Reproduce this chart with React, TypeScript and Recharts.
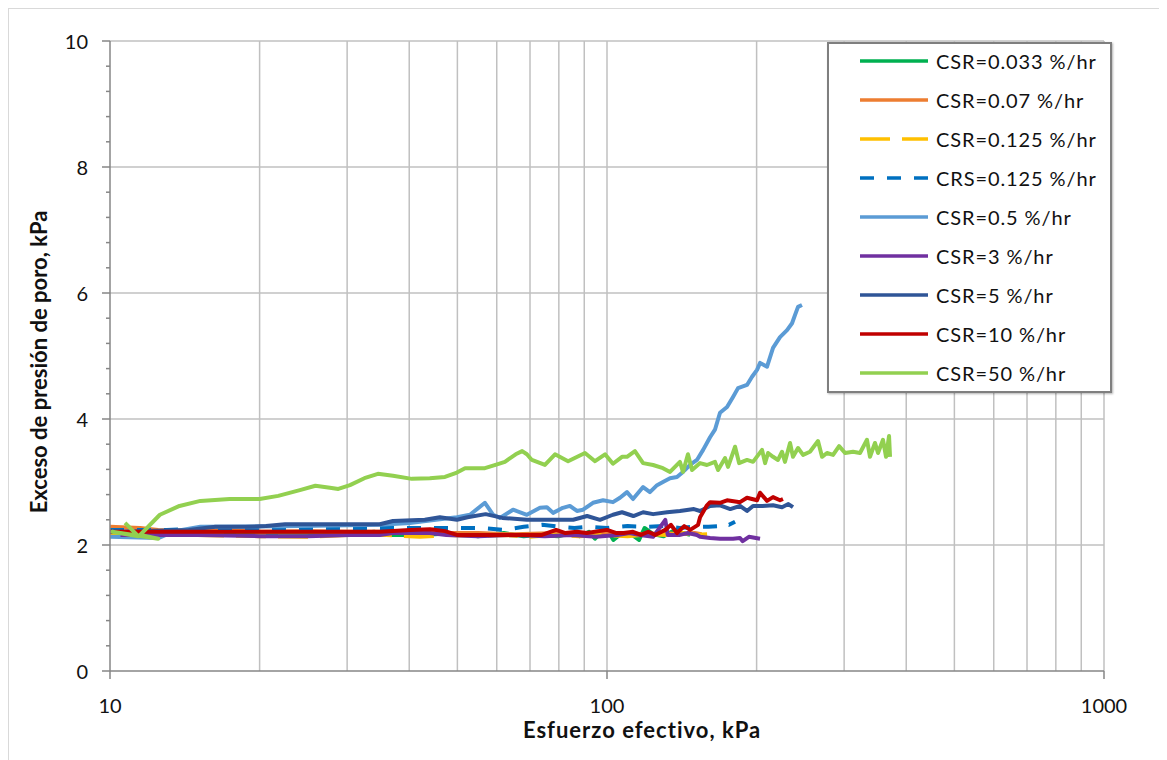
import React from 'react'
import { LineChart, Line, XAxis, YAxis, CartesianGrid, Legend } from 'recharts'

// x = esfuerzo efectivo (kPa), y = exceso de presión de poro (kPa)
const CSR_0033 = [
  [10.5, 2.19], [15, 2.19], [20, 2.19], [26, 2.17], [30, 2.17], [34, 2.21], [36.5, 2.16], [40, 2.16],
  [45, 2.17], [50, 2.19], [55, 2.14], [62, 2.19], [68, 2.14], [72, 2.16], [80, 2.14], [85, 2.19],
  [88, 2.14], [92, 2.21], [94.6, 2.1], [97, 2.19], [101, 2.19], [103, 2.08], [106, 2.16], [112, 2.17],
  [116, 2.08], [119, 2.27], [124, 2.17], [130, 2.14], [137, 2.24], [142, 2.19], [147, 2.16],
]
const CSR_007 = [
  [10, 2.29], [11.5, 2.27], [12.5, 2.24], [15, 2.22], [17, 2.24], [20, 2.21], [25, 2.22], [30, 2.21],
  [40, 2.21], [45.5, 2.25], [48, 2.19], [55, 2.19], [65, 2.17], [80, 2.19], [95, 2.19], [105, 2.19],
  [120, 2.17], [130, 2.19], [140, 2.17], [150, 2.19], [155, 2.17],
]
const CSR_0125 = [
  [10, 2.16], [15, 2.16], [20, 2.14], [25, 2.13], [30, 2.16], [36, 2.16], [42, 2.13], [48, 2.16],
  [55, 2.14], [62, 2.16], [70, 2.13], [78, 2.16], [88, 2.14], [98, 2.16], [110, 2.14], [122, 2.17],
  [132, 2.16], [142, 2.19], [150, 2.16], [159, 2.17],
]
const CRS_0125 = [
  [10, 2.24], [13, 2.24], [18, 2.27], [25, 2.27], [32, 2.27], [37, 2.27], [44, 2.27], [50, 2.27],
  [56, 2.27], [62, 2.24], [68, 2.29], [74, 2.32], [80, 2.29], [86, 2.27], [92, 2.29], [100, 2.27],
  [110, 2.3], [120, 2.29], [130, 2.3], [140, 2.27], [150, 2.29], [160, 2.29], [167.3, 2.3], [172, 2.35],
  [176, 2.32], [181, 2.37],
]
const CSR_05 = [
  [10, 2.13], [12.5, 2.11], [13.5, 2.22], [15.2, 2.29], [24.1, 2.3], [34.9, 2.32], [40.1, 2.35],
  [46.1, 2.41], [49.9, 2.44], [53, 2.48], [56.8, 2.67], [59, 2.48], [60.9, 2.43], [64.7, 2.56],
  [69, 2.48], [73.3, 2.59], [75.7, 2.6], [77.9, 2.51], [81.5, 2.59], [84.2, 2.62], [87, 2.54],
  [89.5, 2.56], [93.7, 2.67], [98.2, 2.71], [102.8, 2.68], [106.2, 2.75], [109.7, 2.84], [112.8, 2.73],
  [118.2, 2.92], [122, 2.84], [126.1, 2.95], [129.6, 3.0], [133.9, 3.06], [138.3, 3.08], [142.2, 3.16],
  [146.9, 3.27], [151.7, 3.35], [156.1, 3.51], [161.2, 3.71], [164.9, 3.83], [168.8, 4.1], [174.4, 4.19],
  [179.3, 4.35], [183.5, 4.49], [191.3, 4.54], [195.8, 4.67], [200.4, 4.78], [203.2, 4.89], [209.9, 4.83],
  [215.8, 5.13], [222.9, 5.3], [230.3, 5.41], [235.7, 5.52], [238.9, 5.65], [242.3, 5.78], [246.8, 5.81],
]
const CSR_3 = [
  [10.5, 2.16], [15, 2.16], [20, 2.14], [25, 2.14], [30.4, 2.16], [34.9, 2.16], [37.1, 2.19], [44, 2.19],
  [47.5, 2.16], [55, 2.14], [65, 2.16], [75, 2.14], [85, 2.16], [95, 2.13], [105, 2.16], [111, 2.19],
  [116.5, 2.16], [123.8, 2.13], [131, 2.4], [132.5, 2.16], [140.2, 2.16], [145.5, 2.19], [151.7, 2.16],
  [153.9, 2.13], [161.2, 2.11], [168.8, 2.1], [179.3, 2.1], [185.2, 2.11], [187.5, 2.06], [193, 2.13],
  [203.2, 2.1],
]
const CSR_5 = [
  [10, 2.21], [11.3, 2.22], [14.4, 2.24], [16.3, 2.29], [18.7, 2.29], [20.6, 2.3], [22.5, 2.33],
  [25.3, 2.33], [28.8, 2.33], [32, 2.33], [34.9, 2.33], [37.1, 2.38], [43, 2.4], [46.1, 2.44],
  [49.9, 2.4], [52.4, 2.44], [57, 2.49], [61.6, 2.43], [69, 2.4], [80.4, 2.4], [85.5, 2.4], [91.2, 2.46],
  [96.8, 2.4], [102.8, 2.48], [107.2, 2.52], [113, 2.46], [118.2, 2.52], [123.8, 2.49], [132.1, 2.52],
  [140.2, 2.54], [149.6, 2.57], [153.9, 2.54], [161.2, 2.62], [168.8, 2.63], [177, 2.57], [185.2, 2.62],
  [191.3, 2.54], [196.7, 2.62], [205.6, 2.62], [215.8, 2.63], [225, 2.6], [231.7, 2.65], [236.7, 2.6],
]
const CSR_10 = [
  [10, 2.21], [20, 2.21], [30.4, 2.21], [34.9, 2.21], [40.1, 2.24], [44, 2.25], [47.2, 2.22], [49.9, 2.16],
  [59, 2.16], [74, 2.16], [79, 2.24], [82.5, 2.19], [87, 2.21], [91, 2.19], [100, 2.24], [104.5, 2.19],
  [108, 2.19], [112.8, 2.21], [117, 2.16], [121, 2.21], [125, 2.16], [131, 2.24], [134.5, 2.32],
  [138.3, 2.19], [143, 2.3], [147, 2.24], [152.5, 2.32], [153.9, 2.44], [158.9, 2.63], [161.2, 2.68],
  [168.8, 2.67], [174.4, 2.71], [185.2, 2.68], [191.3, 2.75], [200.4, 2.71], [203.2, 2.83], [209.9, 2.7],
  [215.8, 2.76], [222.9, 2.71], [226, 2.73],
]
const CSR_50 = [
  [10.72, 2.35], [11.4, 2.14], [10.1, 2.21], [12.5, 2.1], [11.5, 2.16], [12.6, 2.48], [13.8, 2.62],
  [15.2, 2.7], [17.4, 2.73], [20, 2.73], [21.8, 2.78], [24.1, 2.87], [25.9, 2.94], [27.7, 2.91],
  [28.8, 2.89], [30.4, 2.95], [32.5, 3.06], [34.6, 3.13], [37.1, 3.1], [40.5, 3.05], [44, 3.06],
  [47.2, 3.08], [49.9, 3.15], [51.8, 3.22], [56.8, 3.22], [60.1, 3.28], [62.3, 3.32], [65.5, 3.44],
  [67.5, 3.49], [69, 3.44], [70.6, 3.35], [75, 3.27], [78.6, 3.44], [83.5, 3.33], [90.3, 3.46],
  [94.6, 3.33], [99.1, 3.44], [102.8, 3.29], [107.2, 3.4], [109.7, 3.4], [113.8, 3.49], [118.2, 3.3],
  [123.8, 3.27], [129.6, 3.22], [133.9, 3.16], [140.2, 3.32], [142.2, 3.16], [145.5, 3.44], [148.3, 3.19],
  [153.9, 3.3], [158.9, 3.27], [164.9, 3.32], [167.3, 3.19], [172.8, 3.38], [175.2, 3.24], [181, 3.56],
  [184.4, 3.3], [191.3, 3.35], [196.7, 3.32], [205.1, 3.51], [208, 3.3], [210.9, 3.46], [215.8, 3.4],
  [220.8, 3.35], [225, 3.48], [228.1, 3.32], [233.5, 3.62], [236.7, 3.4], [242.3, 3.54], [248, 3.43],
  [256.1, 3.48], [265.8, 3.65], [270.8, 3.4], [277.1, 3.46], [285, 3.43], [293.1, 3.57], [301.3, 3.46],
  [312.6, 3.48], [322.9, 3.46], [333.5, 3.67], [338.2, 3.4], [346.1, 3.62], [351, 3.46], [359.2, 3.67],
  [364.3, 3.4], [369.4, 3.73], [371.1, 3.4],
]

const X_TICKS = [10, 100, 1000]
const X_GRID = [20, 30, 40, 50, 60, 70, 80, 90, 100, 200, 300, 400, 500, 600, 700, 800, 900, 1000]
const Y_TICKS = [0, 0.4, 0.8, 1.2, 1.6, 2, 2.4, 2.8, 3.2, 3.6, 4, 4.4, 4.8, 5.2, 5.6, 6, 6.4, 6.8, 7.2, 7.6, 8, 8.4, 8.8, 9.2, 9.6, 10]
const Y_GRID = [2, 4, 6, 8, 10]

const SERIES = [
  { name: 'CSR=0.033 %/hr', color: '#00B050', dash: undefined, data: CSR_0033 },
  { name: 'CSR=0.07 %/hr', color: '#ED7D31', dash: undefined, data: CSR_007 },
  { name: 'CSR=0.125 %/hr', color: '#FFC000', dash: '30 12', data: CSR_0125 },
  { name: 'CRS=0.125 %/hr', color: '#0070C0', dash: '14 13', data: CRS_0125 },
  { name: 'CSR=0.5 %/hr', color: '#5B9BD5', dash: undefined, data: CSR_05 },
  { name: 'CSR=3 %/hr', color: '#7030A0', dash: undefined, data: CSR_3 },
  { name: 'CSR=5 %/hr', color: '#2F5597', dash: undefined, data: CSR_5 },
  { name: 'CSR=10 %/hr', color: '#C00000', dash: undefined, data: CSR_10 },
  { name: 'CSR=50 %/hr', color: '#92D050', dash: undefined, data: CSR_50 },
]

const FONT = 'Lato, "Open Sans", sans-serif'
const AXIS = '#868686'
const GRID = '#C0C0C0'

function YTick(props: any) {
  const { x, y, payload } = props
  const major = payload.value % 2 === 0
  return (
    <g>
      <line x1={x + (major ? 14 : 18)} x2={x + 22} y1={y} y2={y} stroke={AXIS} strokeWidth={1.5} />
      {major && (
        <text x={x} y={y} textAnchor="end" dominantBaseline="central" fontFamily={FONT} fontSize={20} fill="#111">
          {payload.value}
        </text>
      )}
    </g>
  )
}

function XTick(props: any) {
  const { x, y, payload } = props
  return (
    <g>
      <line x1={x} x2={x} y1={y - 26} y2={y - 18} stroke={AXIS} strokeWidth={1.5} />
      <text x={x} y={y} textAnchor="middle" dominantBaseline="hanging" fontFamily={FONT} fontSize={20} fill="#111">
        {payload.value}
      </text>
    </g>
  )
}

function LegendBox() {
  return (
    <div style={{ width: 285, height: 351, background: '#fff', border: '2px solid #7F7F7F', boxSizing: 'border-box', boxShadow: '1px 1px 2px rgba(0,0,0,0.3)' }}>
      <svg width={281} height={347} style={{ display: 'block' }}>
        {SERIES.map((s, i) => {
          const cy = 17 + i * 39
          return (
            <g key={s.name}>
              <line x1={31} x2={99} y1={cy} y2={cy} stroke={s.color} strokeWidth={3.5} strokeDasharray={s.dash} />
              <text x={107} y={cy} dominantBaseline="central" fontFamily={FONT} fontSize={20} letterSpacing={0.9} fill="#111">
                {s.name}
              </text>
            </g>
          )
        })}
      </svg>
    </div>
  )
}

export default function App() {
  return (
    <div style={{ width: 1153, height: 770, border: '1px solid #D9D9D9', boxSizing: 'border-box', position: 'relative' }}>
      <LineChart width={1150} height={755} margin={{ top: 32, right: 55, bottom: 18, left: 41 }}>
        <CartesianGrid
          stroke={GRID}
          strokeWidth={1.5}
          verticalValues={X_GRID}
          horizontalValues={Y_GRID}
        />
        <XAxis
          dataKey="x"
          type="number"
          scale="log"
          domain={[10, 1000]}
          ticks={X_TICKS}
          interval={0}
          allowDataOverflow
          height={75}
          tickSize={8}
          tickMargin={18}
          tickLine={false}
          tick={<XTick />}
          axisLine={{ stroke: AXIS, strokeWidth: 1.5 }}
          label={{
            content: ({ viewBox }: any) => (
              <text x={viewBox.x + viewBox.width / 2 + 35} y={viewBox.y + 58} textAnchor="middle" dominantBaseline="central"
                fontFamily={FONT} fontSize={22} fontWeight="bold" letterSpacing={1} fill="#111">
                Esfuerzo efectivo, kPa
              </text>
            ),
          }}
        />
        <YAxis
          type="number"
          domain={[0, 10]}
          ticks={Y_TICKS}
          interval={0}
          width={60}
          tickSize={8}
          tickMargin={14}
          tickLine={false}
          tick={<YTick />}
          axisLine={{ stroke: AXIS, strokeWidth: 1.5 }}
          label={{
            content: ({ viewBox }: any) => {
              const cx = viewBox.x - 12
              const cy = viewBox.y + viewBox.height / 2 + 6
              return (
                <text x={cx} y={cy} transform={`rotate(-90 ${cx} ${cy})`} textAnchor="middle" dominantBaseline="central"
                  fontFamily={FONT} fontSize={22} fontWeight="bold" fill="#111">
                  Exceso de presión de poro, kPa
                </text>
              )
            },
          }}
        />
        {SERIES.map(s => (
          <Line
            key={s.name}
            name={s.name}
            data={s.data.map(([x, y]) => ({ x, y }))}
            dataKey="y"
            type="linear"
            stroke={s.color}
            strokeWidth={4}
            strokeDasharray={s.dash}
            strokeLinejoin="round"
            dot={false}
            activeDot={false}
            isAnimationActive={false}
          />
        ))}
        <Legend
          layout="vertical"
          align="center"
          verticalAlign="middle"
          content={() => <LegendBox />}
          wrapperStyle={{ position: 'absolute', left: 818, top: 33, width: 285, height: 351 }}
        />
      </LineChart>
    </div>
  )
}
